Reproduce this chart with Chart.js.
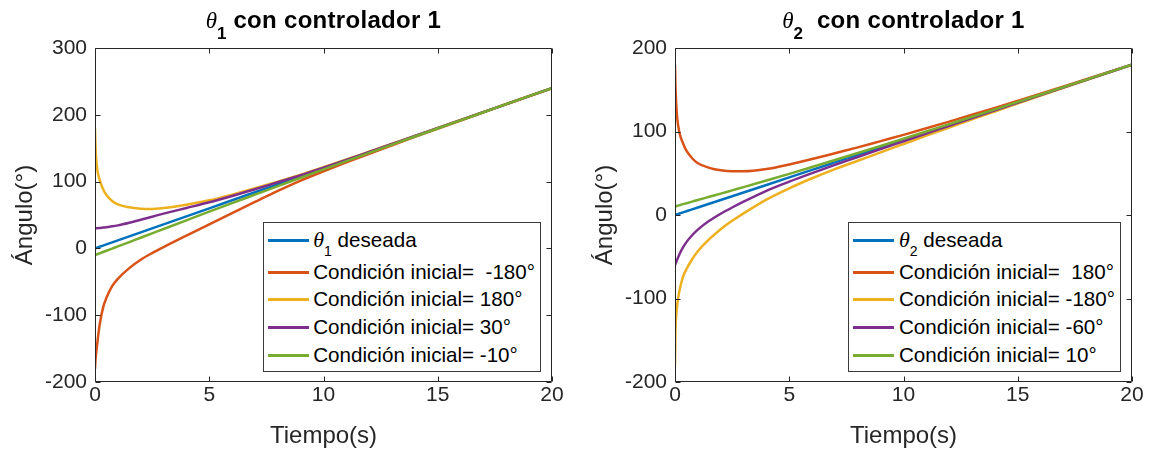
<!DOCTYPE html>
<html>
<head>
<meta charset="utf-8">
<script src="https://cdn.jsdelivr.net/npm/chart.js@4.4.1/dist/chart.umd.min.js"></script>
<style>
html,body{margin:0;padding:0;background:#fff;}
body{width:1156px;height:454px;position:relative;overflow:hidden;font-family:"Liberation Sans",Arial,sans-serif;}
.panel{position:absolute;top:0;width:578px;height:454px;}
.panel canvas{position:absolute;left:0;top:0;}
.ttl{position:absolute;top:6.2px;line-height:28px;font-size:24px;font-weight:bold;text-align:center;white-space:pre;color:#000;}
.ttl i{font-family:"Liberation Serif",serif;font-weight:normal;font-size:23px;line-height:0;}
.ttl sub{font-size:17px;vertical-align:baseline;position:relative;top:10.5px;line-height:0;}
.ttl .sp{letter-spacing:0.3px;}
.lg{position:absolute;border:1px solid #3a3a3a;background:#fff;padding:4px 5px 1.5px 0;}
.row{display:flex;align-items:center;height:27.7px;white-space:pre;font-size:20.6px;color:#000;line-height:1;}
.row:first-child{height:28px;}
.row:nth-child(2){margin-top:3.65px;}
.sw{display:inline-block;width:41px;height:3px;margin-left:4px;margin-right:4.7px;flex:none;}
.tx i{font-family:"Liberation Serif",serif;font-size:22px;line-height:0;}
.tx sub{font-size:14px;vertical-align:baseline;position:relative;top:8.5px;line-height:0;}
</style>
</head>
<body>
<div class="panel" style="left:0">
  <canvas id="c1" width="578" height="454"></canvas>
  <div class="ttl" style="left:95px;width:457px"><i>θ</i><sub>1</sub><span class="sp"> con controlador 1</span></div>
  <div class="lg" id="lg1"></div>
</div>
<div class="panel" style="left:580px">
  <canvas id="c2" width="578" height="454"></canvas>
  <div class="ttl" style="left:95px;width:457px"><i>θ</i><sub>2</sub><span class="sp">  con controlador 1</span></div>
  <div class="lg" id="lg2"></div>
</div>
<script>
// ---------- data ----------
const time = [0,0.02,0.05,0.1,0.2,0.35,0.5,0.75,1,1.5,2,2.5,3,4,5,6,7,8,9,10,11,12,13,14,16,18,20];

// theta 1 (left)
const theta1Desired = [0,0.24,0.6,1.2,2.4,4.2,6,9,12,18,24,30,36,48,60,72,84,96,108,120,132,144,156,168,192,216,240];
const theta1CiM180  = [-180,-168,-157,-142,-115,-89,-74,-56.5,-45.5,-29.5,-17,-7,2,19,36,52.8,69.5,86,101.5,115.4,128.7,141.7,154.4,166.9,191.5,215.8,240];
const theta1Ci180   = [180,155,135,118,103,89,80,71,66,61.5,59.5,59,60.5,65.5,72,80.5,90,100,110.5,121.5,133,144.8,156.6,168.4,192.2,216.1,240];
const theta1Ci30    = [30,30,30.1,30.3,30.6,31.2,31.8,33,34.5,38.5,43,47.5,52,60.5,69,78.5,88.5,99,109.5,120.8,132.5,144.4,156.3,168.2,192.1,216,240];
const theta1CiM10   = [-10,-9.74,-9.35,-8.7,-7.4,-5.45,-3.5,-0.25,3,9.5,16,22.5,29,42,55,67.8,80.5,93.2,105.8,118.3,130.7,143,155.3,167.5,191.7,215.9,240];
const theta1Labels  = ['θ₁ deseada','Condición inicial=  -180°','Condición inicial= 180°','Condición inicial= 30°','Condición inicial= -10°'];
const theta1YTicks  = [-200,-100,0,100,200,300];

// theta 2 (right)
const theta2Desired = [0,0.18,0.45,0.9,1.8,3.15,4.5,6.75,9,13.5,18,22.5,27,36,45,54,63,72,81,90,99,108,117,126,144,162,180];
const theta2Ci180   = [180,155,135,115,98,86,77,68,62,56.5,53.5,52.3,52.3,55,60.5,67,74,81,88.5,96,103.8,111.8,120,128.3,145.3,162.6,180];
const theta2CiM180  = [-180,-140,-122,-107,-90,-74,-65,-53,-43.5,-29,-17,-7,2,18.5,32,44,55,65,75,85,95,104.8,114.5,124,143,161.6,179.9];
const theta2CiM60   = [-60,-58.6,-56.55,-53.1,-46.7,-38.85,-32.5,-24.25,-17.5,-7,1.5,9,16,29,40,50.2,60,69.5,79,88.3,97.6,106.9,116.15,125.35,143.65,161.85,180];
const theta2Ci10    = [10,10.17,10.44,10.88,11.76,13.03,14.1,16.05,18,21.8,25.6,29.5,33.4,41.3,49.3,57.5,65.8,74.2,82.7,91.3,100,108.8,117.6,126.45,144.25,162.1,180];
const theta2Labels  = ['θ₂ deseada','Condición inicial=  180°','Condición inicial= -180°','Condición inicial= -60°','Condición inicial= 10°'];
const theta2YTicks  = [-200,-100,0,100,200];

const xTicks = [0,5,10,15,20];
const xLabel = 'Tiempo(s)';
const yLabel = 'Ángulo(°)';

// ---------- styles ----------
const lineColors = ['#0072BD','#D95319','#EDB120','#7E2F8E','#77AC30'];
const FONT = "'Liberation Sans', Arial, sans-serif";
const AX = '#262626';

Chart.defaults.font.family = FONT;

function fmtLabel(s){
  return s.replace(/θ([\u2080-\u2089])/, (m, d) => '<i>θ</i><sub>' + (d.charCodeAt(0) - 0x2080) + '</sub>');
}

const boxPlugin = {
  id: 'matlabBox',
  afterDatasetsDraw(chart, args, opts) {
    const {ctx, chartArea: a, scales: {x, y}} = chart;
    const L = Math.round(a.left) + 0.5, R = Math.round(a.right) - 0.5;
    const T = Math.round(a.top) + 0.5, B = Math.round(a.bottom) - 0.5;
    const tl = 5;
    ctx.save();
    ctx.strokeStyle = AX;
    ctx.lineWidth = 1;
    ctx.beginPath();
    ctx.rect(L, T, R - L, B - T);
    opts.xt.forEach(v => {
      const px = Math.round(x.getPixelForValue(v)) + 0.5;
      ctx.moveTo(px, B); ctx.lineTo(px, B - tl);
      ctx.moveTo(px, T); ctx.lineTo(px, T + tl);
    });
    opts.yt.forEach(v => {
      const py = Math.round(y.getPixelForValue(v)) + 0.5;
      ctx.moveTo(L, py); ctx.lineTo(L + tl, py);
      ctx.moveTo(R, py); ctx.lineTo(R - tl, py);
    });
    ctx.stroke();
    ctx.restore();
  }
};

const htmlLegend = {
  id: 'htmlLegend',
  afterUpdate(chart, args, opts) {
    const box = document.getElementById(opts.containerID);
    box.innerHTML = '';
    chart.data.datasets.forEach(ds => {
      const row = document.createElement('div'); row.className = 'row';
      const sw = document.createElement('span'); sw.className = 'sw'; sw.style.background = ds.borderColor;
      const tx = document.createElement('span'); tx.className = 'tx'; tx.innerHTML = fmtLabel(ds.label);
      row.append(sw, tx); box.append(row);
    });
    const a = chart.chartArea;
    box.style.right = (chart.width - a.right + 11) + 'px';
    box.style.bottom = (chart.height - a.bottom + 10.5) + 'px';
  }
};

function makeChart(id, legendId, labels, seriesList, yTicks) {
  const n = seriesList.length;
  const datasets = seriesList.map((vals, i) => ({
    label: labels[i],
    data: time.map((t, k) => ({x: t, y: vals[k]})),
    borderColor: lineColors[i],
    backgroundColor: lineColors[i],
    borderWidth: 2.5,
    pointRadius: 0,
    fill: false,
    cubicInterpolationMode: 'monotone',
    order: n - 1 - i
  }));
  return new Chart(document.getElementById(id), {
    type: 'line',
    data: {datasets},
    plugins: [boxPlugin, htmlLegend],
    options: {
      responsive: false,
      animation: false,
      devicePixelRatio: 1,
      layout: {padding: {top: 48, right: 26, bottom: 0, left: 0}},
      plugins: {
        legend: {display: false},
        tooltip: {enabled: false},
        title: {display: false},
        matlabBox: {xt: xTicks, yt: yTicks},
        htmlLegend: {containerID: legendId}
      },
      scales: {
        x: {
          type: 'linear',
          min: xTicks[0], max: xTicks[xTicks.length - 1],
          afterBuildTicks: s => { s.ticks = xTicks.map(v => ({value: v})); },
          afterFit: s => { s.height = 72; },
          grid: {display: false, drawTicks: false},
          border: {display: false},
          ticks: {padding: 1, color: AX, font: {size: 21}, autoSkip: false, maxRotation: 0},
          title: {display: true, text: xLabel, color: AX, font: {size: 24}, padding: {top: 0, bottom: 3}}
        },
        y: {
          type: 'linear',
          min: yTicks[0], max: yTicks[yTicks.length - 1],
          afterBuildTicks: s => { s.ticks = yTicks.map(v => ({value: v})); },
          afterFit: s => { s.width = 95; },
          grid: {display: false, drawTicks: false},
          border: {display: false},
          ticks: {padding: 8, color: AX, font: {size: 21}, autoSkip: false},
          title: {display: true, text: yLabel, color: AX, font: {size: 24}, padding: {top: 10.6, bottom: 0}}
        }
      }
    }
  });
}

makeChart('c1', 'lg1', theta1Labels, [theta1Desired, theta1CiM180, theta1Ci180, theta1Ci30, theta1CiM10], theta1YTicks);
makeChart('c2', 'lg2', theta2Labels, [theta2Desired, theta2Ci180, theta2CiM180, theta2CiM60, theta2Ci10], theta2YTicks);
</script>
</body>
</html>
